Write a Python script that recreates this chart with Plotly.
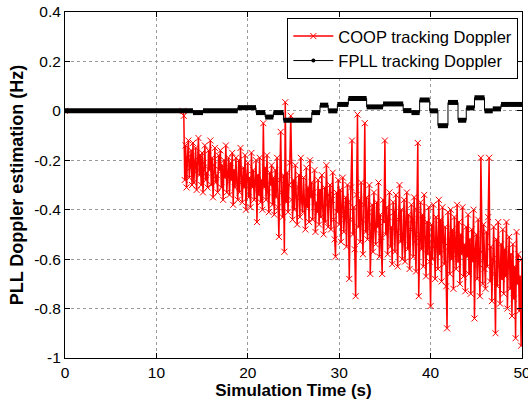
import numpy as np
import plotly.graph_objects as go

# COOP tracking Doppler (Hz), sampled every 0.1 s from 13.0 s to 50.0 s
coop_doppler = [
    -0.02, -0.28, -0.14, -0.31, -0.19, -0.12, -0.27, -0.23, -0.16, -0.30,   # 13
    -0.13, -0.29, -0.20, -0.15, -0.32, -0.24, -0.11, -0.26, -0.18, -0.30,   # 14
    -0.17, -0.33, -0.21, -0.14, -0.28, -0.25, -0.31, -0.16, -0.24, -0.12,   # 15
    -0.30, -0.19, -0.35, -0.22, -0.15, -0.29, -0.26, -0.33, -0.18, -0.24,   # 16
    -0.16, -0.31, -0.22, -0.36, -0.20, -0.27, -0.14, -0.33, -0.25, -0.19,   # 17
    -0.34, -0.21, -0.28, -0.17, -0.38, -0.24, -0.31, -0.19, -0.29, -0.36,   # 18
    -0.20, -0.33, -0.15, -0.29, -0.37, -0.23, -0.31, -0.18, -0.40, -0.26,   # 19
    -0.21, -0.35, -0.27, -0.39, -0.17, -0.31, -0.24, -0.36, -0.29, -0.20,   # 20
    -0.45, -0.26, -0.34, -0.19, -0.37, -0.28, -0.40, -0.05, -0.31, -0.23,   # 21
    -0.36, -0.18, -0.33, -0.41, -0.25, -0.30, -0.22, -0.38, -0.27, -0.42,   # 22
    -0.24, -0.35, -0.19, -0.39, -0.51, -0.28, -0.085, -0.33, -0.43, -0.26,  # 23
    -0.57, 0.035, -0.37, -0.25, -0.41, -0.30, -0.21, -0.02, -0.36, -0.44,   # 24
    -0.28, -0.40, -0.22, -0.35, -0.46, -0.31, -0.26, -0.43, -0.19, -0.37,   # 25
    -0.41, -0.27, -0.36, -0.48, -0.23, -0.39, -0.31, -0.45, -0.20, -0.35,   # 26
    -0.29, -0.44, -0.33, -0.24, -0.49, -0.37, -0.41, -0.28, -0.46, -0.32,   # 27
    -0.43, -0.26, -0.39, -0.50, -0.31, -0.45, -0.22, -0.38, -0.47, -0.34,   # 28
    -0.30, -0.48, -0.36, -0.25, -0.44, -0.52, -0.59, -0.33, -0.41, -0.28,   # 29
    -0.46, -0.32, -0.53, -0.38, -0.27, -0.49, -0.42, -0.35, -0.55, -0.30,   # 30
    -0.37, -0.68, -0.44, -0.31, -0.12, -0.50, -0.39, -0.56, -0.75, -0.34,   # 31
    -0.015, -0.47, -0.36, -0.53, -0.29, -0.44, -0.58, -0.38, -0.05, -0.49,  # 32
    -0.35, -0.52, -0.41, -0.30, -0.66, -0.46, -0.38, -0.57, -0.33, -0.48,   # 33
    -0.54, -0.37, -0.47, -0.29, -0.59, -0.42, -0.51, -0.66, -0.36, -0.45,   # 34
    -0.12, -0.50, -0.39, -0.58, -0.43, -0.33, -0.55, -0.47, -0.62, -0.37,   # 35
    -0.41, -0.57, -0.34, -0.49, -0.63, -0.44, -0.30, -0.53, -0.40, -0.60,   # 36
    -0.52, -0.36, -0.61, -0.45, -0.33, -0.56, -0.42, -0.64, -0.48, -0.38,   # 37
    -0.44, -0.59, -0.35, -0.53, -0.65, -0.40, -0.13, -0.75, -0.50, -0.37,   # 38
    -0.56, -0.42, -0.63, -0.34, -0.51, -0.67, -0.45, -0.58, -0.39, -0.61,   # 39
    -0.79, -0.46, -0.60, -0.38, -0.55, -0.68, -0.43, -0.52, -0.64, -0.36,   # 40
    -0.58, -0.44, -0.69, -0.39, -0.53, -0.62, -0.47, -0.71, -0.88, -0.41,   # 41
    -0.55, -0.66, -0.40, -0.60, -0.48, -0.72, -0.43, -0.57, -0.64, -0.38,   # 42
    -0.61, -0.45, -0.70, -0.50, -0.58, -0.39, -0.67, -0.54, -0.73, -0.47,   # 43
    -0.59, -0.42, -0.66, -0.52, -0.74, -0.48, -0.61, -0.40, -0.84, -0.56,   # 44
    -0.50, -0.68, -0.44, -0.62, -0.75, -0.19, -0.57, -0.70, -0.46, -0.64,   # 45
    -0.72, -0.49, -0.63, -0.43, -0.19, -0.69, -0.55, -0.77, -0.60, -0.47,   # 46
    -0.66, -0.90, -0.52, -0.71, -0.45, -0.63, -0.78, -0.54, -0.68, -0.48,   # 47
    -0.74, -0.56, -0.67, -0.45, -0.80, -0.62, -0.51, -0.72, -0.58, -0.83,   # 48
    -0.54, -0.76, -0.63, -0.92, -0.49, -0.70, -0.58, -0.81, -0.67, -0.95,   # 49
    -0.60,                                                                 # 50
]
# before 13 s the COOP estimate sits at zero
coop_time = [0.0, 12.9] + [round(13.0 + 0.1 * i, 1) for i in range(len(coop_doppler))]
coop_values = [0.0, 0.0] + coop_doppler

# FPLL tracking Doppler: piecewise constant (start time of each level)
fpll_time = [0, 14.0, 15.1, 18.9, 20.9, 21.9, 22.8, 23.9, 27.0, 27.9, 28.8, 29.8, 31.0, 33.0,
             34.8, 37.0, 37.9, 38.8, 39.9, 40.8, 41.9, 43.0, 43.9, 44.8, 45.9, 46.8, 47.7, 50.0]
fpll_level = [0, -0.007, 0, 0.013, -0.007, -0.025, -0.007, -0.038, -0.007, 0.023, 0, 0.026, 0.05, 0.016,
              0.028, 0.001, -0.007, 0.044, 0, -0.06, 0.034, -0.038, 0.012, 0.053, 0, 0.008, 0.026, 0.026]

y_ticks = [0.4, 0.2, 0, -0.2, -0.4, -0.6, -0.8, -1]
y_ticktext = ["0.4", "0.2", "0", "-0.2", "-0.4", "-0.6", "-0.8", "-1"]
x_ticks = [0, 10, 20, 30, 40, 50]

FONT = "Liberation Sans, Arial, sans-serif"

fig = go.Figure()

fig.add_trace(go.Scatter(
    x=coop_time, y=coop_values, mode="lines+markers", name="COOP tracking Doppler",
    line=dict(color="red", width=1.5),
    marker=dict(symbol="x-thin", size=6, line=dict(width=1, color="red")),
))

# thin connector for the steps
fig.add_trace(go.Scatter(
    x=fpll_time, y=fpll_level, mode="lines", line=dict(color="black", width=1, shape="hv"),
    showlegend=False, hoverinfo="skip",
))
# thick flat parts (dense dot markers in the original)
seg_x, seg_y = [], []
for i in range(len(fpll_time) - 1):
    seg_x += [fpll_time[i], fpll_time[i + 1], None]
    seg_y += [fpll_level[i], fpll_level[i], None]
fig.add_trace(go.Scatter(
    x=seg_x, y=seg_y, mode="lines", line=dict(color="black", width=5),
    showlegend=False, hoverinfo="skip",
))
# legend entry for FPLL
fig.add_trace(go.Scatter(
    x=[None], y=[None], mode="lines+markers", name="FPLL tracking Doppler",
    line=dict(color="black", width=1), marker=dict(symbol="circle", size=4, color="black"),
))

axis_common = dict(
    showline=True, linecolor="black", linewidth=1, mirror="ticks",
    ticks="inside", ticklen=5, tickcolor="black", automargin=False,
    ticklabeloverflow="allow",
    showgrid=True, gridcolor="#9a9a9a", griddash="dot", gridwidth=1,
    zeroline=False, tickfont=dict(size=15.5, color="black", family=FONT),
)

fig.update_xaxes(range=[0, 50], tickvals=x_ticks,
                 title=dict(text="<b>Simulation Time (s)</b>", font=dict(size=17, color="black", family=FONT),
                            standoff=3),
                 **axis_common)
fig.update_yaxes(range=[-1, 0.4], tickvals=y_ticks, ticktext=y_ticktext,
                 title=dict(text="<b>PLL Doppler estimation (Hz)</b>", font=dict(size=18, color="black", family=FONT),
                            standoff=5),
                 **axis_common)

fig.update_layout(
    width=528, height=405,
    margin=dict(l=65, r=6, t=12, b=47),
    plot_bgcolor="white", paper_bgcolor="white",
    font=dict(family=FONT, color="black"),
    legend=dict(
        x=0.992, y=0.983, xanchor="right", yanchor="top",
        bgcolor="white", bordercolor="black", borderwidth=1,
        font=dict(size=16.5, color="black", family=FONT),
        itemwidth=40, tracegroupgap=0,
    ),
)

fig.write_html("out.html", config={"displayModeBar": False},
               post_script="document.body.style.margin='0';")
